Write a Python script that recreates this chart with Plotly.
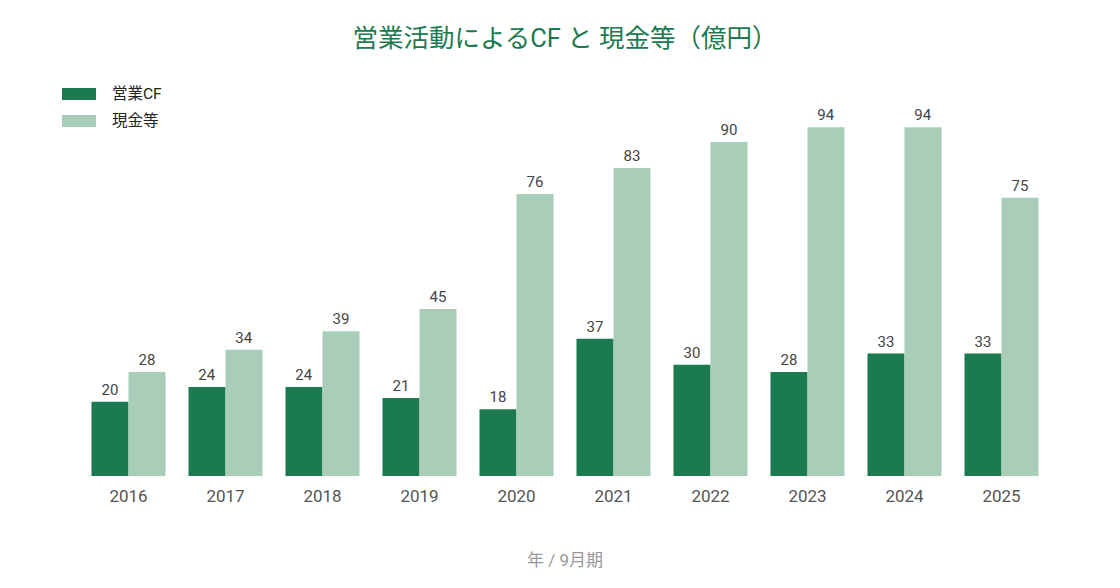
import plotly.graph_objects as go

years = ["2016", "2017", "2018", "2019", "2020", "2021", "2022", "2023", "2024", "2025"]
op_cf = [20, 24, 24, 21, 18, 37, 30, 28, 33, 33]
cash = [28, 34, 39, 45, 76, 83, 90, 94, 94, 75]
series_names = ["営業CF", "現金等"]
colors = ["#1b7a50", "#a8cdb8"]

FONT = "Roboto, Noto Sans CJK JP, sans-serif"

fig = go.Figure()
for name, vals, col in zip(series_names, [op_cf, cash], colors):
    fig.add_trace(go.Bar(
        x=years, y=vals, name=name, marker=dict(color=col, line=dict(width=0)),
        text=[str(v) for v in vals], textposition="outside",
        textfont=dict(size=15, color="#444444", family=FONT),
        cliponaxis=False, showlegend=False,
    ))

# manual legend
leg_y = [(1.0458, 1.0135), (0.973, 0.9407)]
for (y1, y0), name, col in zip(leg_y, series_names, colors):
    fig.add_shape(type="rect", xref="paper", yref="paper", x0=-0.0186, x1=0.0165,
                  y0=y0, y1=y1, fillcolor=col, line=dict(width=0))
    fig.add_annotation(xref="paper", yref="paper", x=0.0305, y=(y0 + y1) / 2,
                       text=name, showarrow=False, xanchor="left", yanchor="middle",
                       font=dict(size=15.5, color="#222222", family=FONT))

fig.update_layout(
    width=1120, height=588,
    margin=dict(l=80, r=70, t=105, b=112),
    paper_bgcolor="white", plot_bgcolor="white",
    barmode="group", bargap=0.237, bargroupgap=0,
    font=dict(family=FONT),
    title=dict(text="営業活動によるCF と 現金等（億円）", x=0.5, xref="paper", xanchor="center",
               y=1 - 38 / 588, yanchor="middle",
               font=dict(size=25.5, color="#1b7a50", family=FONT)),
    xaxis=dict(showline=False, showgrid=False, ticks="outside", ticklen=5,
               tickcolor="rgba(0,0,0,0)", zeroline=False,
               tickfont=dict(size=17, color="#555555", family=FONT),
               title=dict(text="年 / 9月期", standoff=48,
                          font=dict(size=17, color="#999999", family=FONT))),
    yaxis=dict(range=[0, 100], visible=False, showgrid=False, zeroline=False),
)

fig.write_html("out.html")
